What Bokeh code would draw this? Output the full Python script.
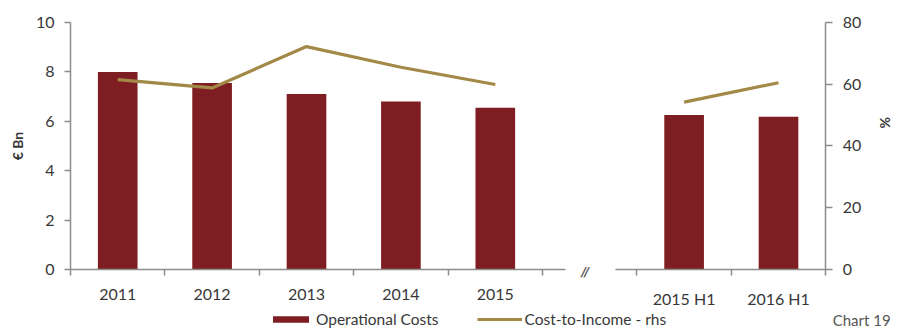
import math
from bokeh.plotting import figure
from bokeh.models import (Range1d, LinearAxis, FixedTicker, Legend, LegendItem, Label)
from bokeh.embed import file_html
from bokeh.resources import INLINE

# ---------------- data ----------------
years = ["2011", "2012", "2013", "2014", "2015"]
halves = ["2015 H1", "2016 H1"]
op_costs_years = [8.0, 7.55, 7.1, 6.8, 6.55]       # € Bn
op_costs_halves = [6.25, 6.18]                     # € Bn
cti_years = [61.5, 58.8, 72.2, 65.5, 59.9]         # %
cti_halves = [54.2, 60.5]                          # %
left_ticks = [0, 2, 4, 6, 8, 10]
right_ticks = [0, 20, 40, 60, 80]

BAR = "#7E1E22"
LINE = "#A38947"
AXIS = "#8C8C8C"
TEXT = "#383838"
FONT = "Lato"
TICK_SIZE = "16px"

# category positions: annual block, one empty slot (the break), half-year block
x_years = [i + 0.5 for i in range(len(years))]
gap_start = len(years) + 1
x_halves = [gap_start + i + 0.5 for i in range(len(halves))]
x_end = gap_start + len(halves)

# whole canvas is the plot frame; axes are pinned at data locations
p = figure(width=898, height=331,
           x_range=Range1d(-0.7415, 8.771), y_range=Range1d(-2.51, 10.89),
           output_backend="svg", toolbar_location=None,
           x_axis_location=None, y_axis_location=None, min_border=0)
p.extra_y_ranges = {"pct": Range1d(-20.08, 87.12)}
p.outline_line_color = None
p.xgrid.visible = False
p.ygrid.visible = False
p.background_fill_color = "white"
p.border_fill_color = "white"

bars = p.vbar(x=x_years, top=op_costs_years, width=0.42, fill_color=BAR, line_color=None)
p.vbar(x=x_halves, top=op_costs_halves, width=0.42, fill_color=BAR, line_color=None)
line = p.line(x=x_years, y=cti_years, y_range_name="pct", line_color=LINE, line_width=3.2)
p.line(x=x_halves, y=cti_halves, y_range_name="pct", line_color=LINE, line_width=3.2)


def style_x(ax):
    ax.major_tick_out = 0
    ax.major_tick_in = 0
    ax.minor_tick_out = 6
    ax.minor_tick_in = 0
    ax.minor_tick_line_color = AXIS
    ax.minor_tick_line_width = 1.5
    ax.axis_line_color = AXIS
    ax.axis_line_width = 1.5
    ax.major_label_standoff = 14
    ax.major_label_text_font = FONT
    ax.major_label_text_font_size = TICK_SIZE
    ax.major_label_text_color = TEXT


def style_y(ax):
    ax.minor_tick_line_color = None
    ax.major_tick_in = 0
    ax.major_tick_line_color = AXIS
    ax.major_tick_line_width = 1.5
    ax.axis_line_color = AXIS
    ax.axis_line_width = 1.5
    ax.major_label_text_font = FONT
    ax.major_label_text_font_size = TICK_SIZE
    ax.major_label_text_color = TEXT
    ax.axis_label_text_font = FONT
    ax.axis_label_text_font_size = "14px"
    ax.axis_label_text_font_style = "bold"
    ax.axis_label_text_color = TEXT


# x axis, annual block
xa = LinearAxis(ticker=FixedTicker(ticks=x_years, minor_ticks=list(range(len(years) + 1))),
                fixed_location=0, bounds=(0, 5.24))
xa.major_label_overrides = {x: lab for x, lab in zip(x_years, years)}
style_x(xa)
p.add_layout(xa, "below")

# x axis, half-year block
xb = LinearAxis(ticker=FixedTicker(ticks=x_halves,
                                   minor_ticks=list(range(gap_start, x_end + 1))),
                fixed_location=0, bounds=(5.77, x_end))
xb.major_label_overrides = {x: lab for x, lab in zip(x_halves, halves)}
style_x(xb)
p.add_layout(xb, "below")

# left axis (€ Bn)
ya = LinearAxis(ticker=FixedTicker(ticks=left_ticks), fixed_location=0, bounds=(0, 10),
                axis_label="€ Bn")
style_y(ya)
ya.major_tick_out = 6
ya.major_label_standoff = 10
ya.axis_label_standoff = 7
p.add_layout(ya, "left")

# right axis (%); its title sits above the axis middle, as in the original
ra = LinearAxis(y_range_name="pct", ticker=FixedTicker(ticks=right_ticks),
                fixed_location=x_end, bounds=(0, 80))
style_y(ra)
ra.major_tick_out = 7
ra.major_label_standoff = 10
p.add_layout(ra, "right")
p.add_layout(Label(x=x_end, y=47.5, y_range_name="pct", x_offset=60, text="%",
                   angle=-math.pi / 2, text_align="center", text_baseline="middle",
                   text_font=FONT, text_font_size="14px", text_font_style="bold",
                   text_color=TEXT))

# axis break marker
p.add_layout(Label(x=5.45, y=0, y_offset=-2, text="//", text_align="center",
                   text_baseline="middle", text_font=FONT, text_font_size="14px",
                   text_font_style="bold italic", text_color="#555555"))

# chart number
p.add_layout(Label(x=x_end, y=0, x_offset=7, y_offset=-51, text="Chart 19",
                   text_align="left", text_baseline="middle", text_font=FONT,
                   text_font_size="15px", text_color="#555555"))

legend = Legend(items=[LegendItem(label="Operational Costs", renderers=[bars]),
                       LegendItem(label="Cost-to-Income - rhs", renderers=[line])],
                orientation="horizontal", location=(268, 3),
                glyph_width=45, glyph_height=8, label_standoff=3, spacing=38,
                padding=0, margin=0, border_line_color=None, background_fill_alpha=0,
                label_text_font=FONT, label_text_font_size="15.5px", label_text_color=TEXT)
p.add_layout(legend, "center")

open("out.html", "w").write(file_html(p, INLINE))
